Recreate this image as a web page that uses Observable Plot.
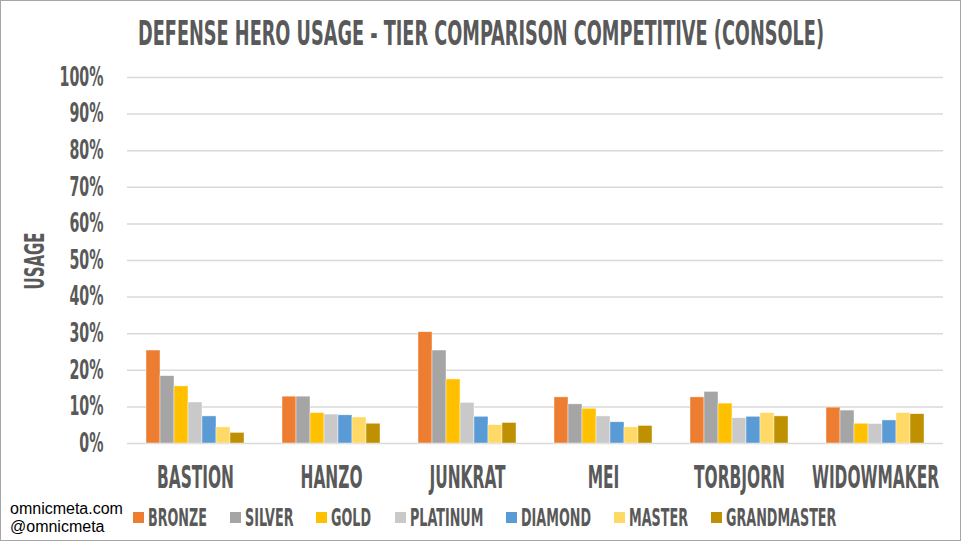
<!DOCTYPE html>
<html>
<head>
<meta charset="utf-8">
<script src="https://cdn.jsdelivr.net/npm/d3@7"></script>
<script src="https://cdn.jsdelivr.net/npm/@observablehq/plot@0.6"></script>
<style>
  html, body { margin: 0; padding: 0; background: #fff; }
  #wrap { position: relative; width: 961px; height: 541px; overflow: hidden; background: #fff; }
  #frame { position: absolute; inset: 0; border: 1px solid #a6a6a6; pointer-events: none; }
  .cond { font-family: "Liberation Sans Narrow", "DejaVu Sans Condensed", "Liberation Sans", sans-serif; font-weight: bold; color: #595959; }
  .sq { display: inline-block; white-space: nowrap; }
  .sq > span { display: inline-block; white-space: nowrap; }
  #title { position: absolute; left: 0; top: 16px; width: 961px; text-align: center; font-size: 34px; line-height: 34px; }
  #ylab { position: absolute; left: 35px; top: 261px; font-size: 26px; line-height: 26px; }
  #legend { position: absolute; left: 133px; top: 505px; display: flex; align-items: center; font-size: 25px; line-height: 25px; }
  .item { display: flex; align-items: center; margin-right: 23px; }
  .sw { width: 11px; height: 11px; margin-right: 4px; }
  #caption { position: absolute; left: 10px; top: 500px; font-family: "Liberation Sans", Arial, sans-serif; font-size: 16px; line-height: 18px; color: #000; }
  #chart { position: absolute; left: 0; top: 0; }
</style>
</head>
<body>
<div id="wrap">
  <div id="chart"></div>
  <div id="title" class="cond"></div>
  <div id="ylab" class="cond"></div>
  <div id="legend" class="cond"></div>
  <div id="caption">omnicmeta.com<br>@omnicmeta</div>
  <div id="frame"></div>
</div>
<script>
const heroes = ["BASTION", "HANZO", "JUNKRAT", "MEI", "TORBJORN", "WIDOWMAKER"];
const tiers = ["BRONZE", "SILVER", "GOLD", "PLATINUM", "DIAMOND", "MASTER", "GRANDMASTER"];
const bronze      = [25.4, 12.8, 30.4, 12.6, 12.6, 9.8];
const silver      = [18.4, 12.8, 25.4, 10.7, 14.1, 9.0];
const gold        = [15.6,  8.3, 17.5,  9.5, 10.9, 5.4];
const platinum    = [11.2,  7.9, 11.1,  7.4,  6.9, 5.3];
const diamond     = [ 7.4,  7.7,  7.3,  5.8,  7.3, 6.3];
const master      = [ 4.4,  7.1,  5.0,  4.4,  8.3, 8.3];
const grandmaster = [ 2.9,  5.4,  5.6,  4.8,  7.4, 8.0];
const tierColors = ["#ED7D31", "#A5A5A5", "#FFC000", "#C9C9C9", "#5B9BD5", "#FFD966", "#BF9000"];
const yTicks = [0, 10, 20, 30, 40, 50, 60, 70, 80, 90, 100];
const titleText = "DEFENSE HERO USAGE - TIER COMPARISON COMPETITIVE (CONSOLE)";
const yLabelText = "USAGE";

const series = [bronze, silver, gold, platinum, diamond, master, grandmaster];
const rows = heroes.flatMap((h, i) => tiers.map((t, j) => ({hero: h, tier: t, value: series[j][i]})));

const FONT = '"Liberation Sans Narrow", "DejaVu Sans Condensed", "Liberation Sans", sans-serif';

const chart = Plot.plot({
  width: 961,
  height: 541,
  marginTop: 77,
  marginBottom: 98,
  marginLeft: 125,
  marginRight: 16,
  style: {fontFamily: FONT, fontWeight: "bold", color: "#595959", background: "transparent", overflow: "visible"},
  fx: {domain: heroes, padding: 0, label: null},
  x: {domain: tiers, paddingInner: 0, paddingOuter: 1.245, axis: null},
  y: {domain: [0, 100], label: null},
  color: {domain: tiers, range: tierColors},
  marks: [
    Plot.gridY(yTicks, {stroke: "#d9d9d9", strokeOpacity: 1, strokeWidth: 1.5}),
    Plot.barY(rows, {fx: "hero", x: "tier", y: "value", fill: "tier", stroke: "#ffffff", strokeWidth: 0.6, strokeOpacity: 0.7}),
    Plot.axisY(yTicks, {tickFormat: d => d + "%", tickSize: 0, tickPadding: 24, fontSize: 26, label: null}),
    Plot.axisFx({anchor: "bottom", tickSize: 0, tickPadding: 22, fontSize: 32, label: null})
  ]
});
document.getElementById("chart").appendChild(chart);

// condense SVG texts so that a reference label gets the reference width
function squeezeSvg(sel, refText, refWidth) {
  const texts = Array.from(chart.querySelectorAll(sel));
  const ref = texts.find(t => t.textContent === refText) || texts[0];
  const f = refWidth / ref.getComputedTextLength();
  texts.forEach(t => {
    const len = t.getComputedTextLength();
    if (len > 0) {
      t.setAttribute("textLength", (len * f).toFixed(2));
      t.setAttribute("lengthAdjust", "spacingAndGlyphs");
    }
  });
}
squeezeSvg('g[aria-label="y-axis tick label"] text', "100%", 44);
squeezeSvg('g[aria-label="fx-axis tick label"] text', "BASTION", 77);

// HTML condensed text helper
function makeSq(text, parent) {
  const outer = document.createElement("span");
  outer.className = "sq";
  const inner = document.createElement("span");
  inner.textContent = text;
  outer.appendChild(inner);
  parent.appendChild(outer);
  return outer;
}
function applySq(outer, f) {
  const inner = outer.firstChild;
  const w = inner.getBoundingClientRect().width;
  inner.style.transformOrigin = "left center";
  inner.style.transform = `scaleX(${f})`;
  outer.style.width = (w * f) + "px";
}

// Title
const tOuter = makeSq(titleText, document.getElementById("title"));
applySq(tOuter, 686 / tOuter.firstChild.getBoundingClientRect().width);

// Y label
const ylab = document.getElementById("ylab");
const yOuter = makeSq(yLabelText, ylab);
{
  const w = yOuter.firstChild.getBoundingClientRect().width;
  const f = 57 / w;
  ylab.style.width = w + "px";
  ylab.style.transformOrigin = "0 0";
  ylab.style.transform = `rotate(-90deg) scaleX(${f}) translate(${-w / 2}px, ${-13}px)`;
}

// Legend
const legend = document.getElementById("legend");
const legendOuters = tiers.map((t, i) => {
  const item = document.createElement("div");
  item.className = "item";
  const sw = document.createElement("span");
  sw.className = "sw";
  sw.style.background = tierColors[i];
  item.appendChild(sw);
  legend.appendChild(item);
  return makeSq(t, item);
});
const legendF = 59 / legendOuters[0].firstChild.getBoundingClientRect().width;
legendOuters.forEach(o => applySq(o, legendF));
</script>
</body>
</html>
